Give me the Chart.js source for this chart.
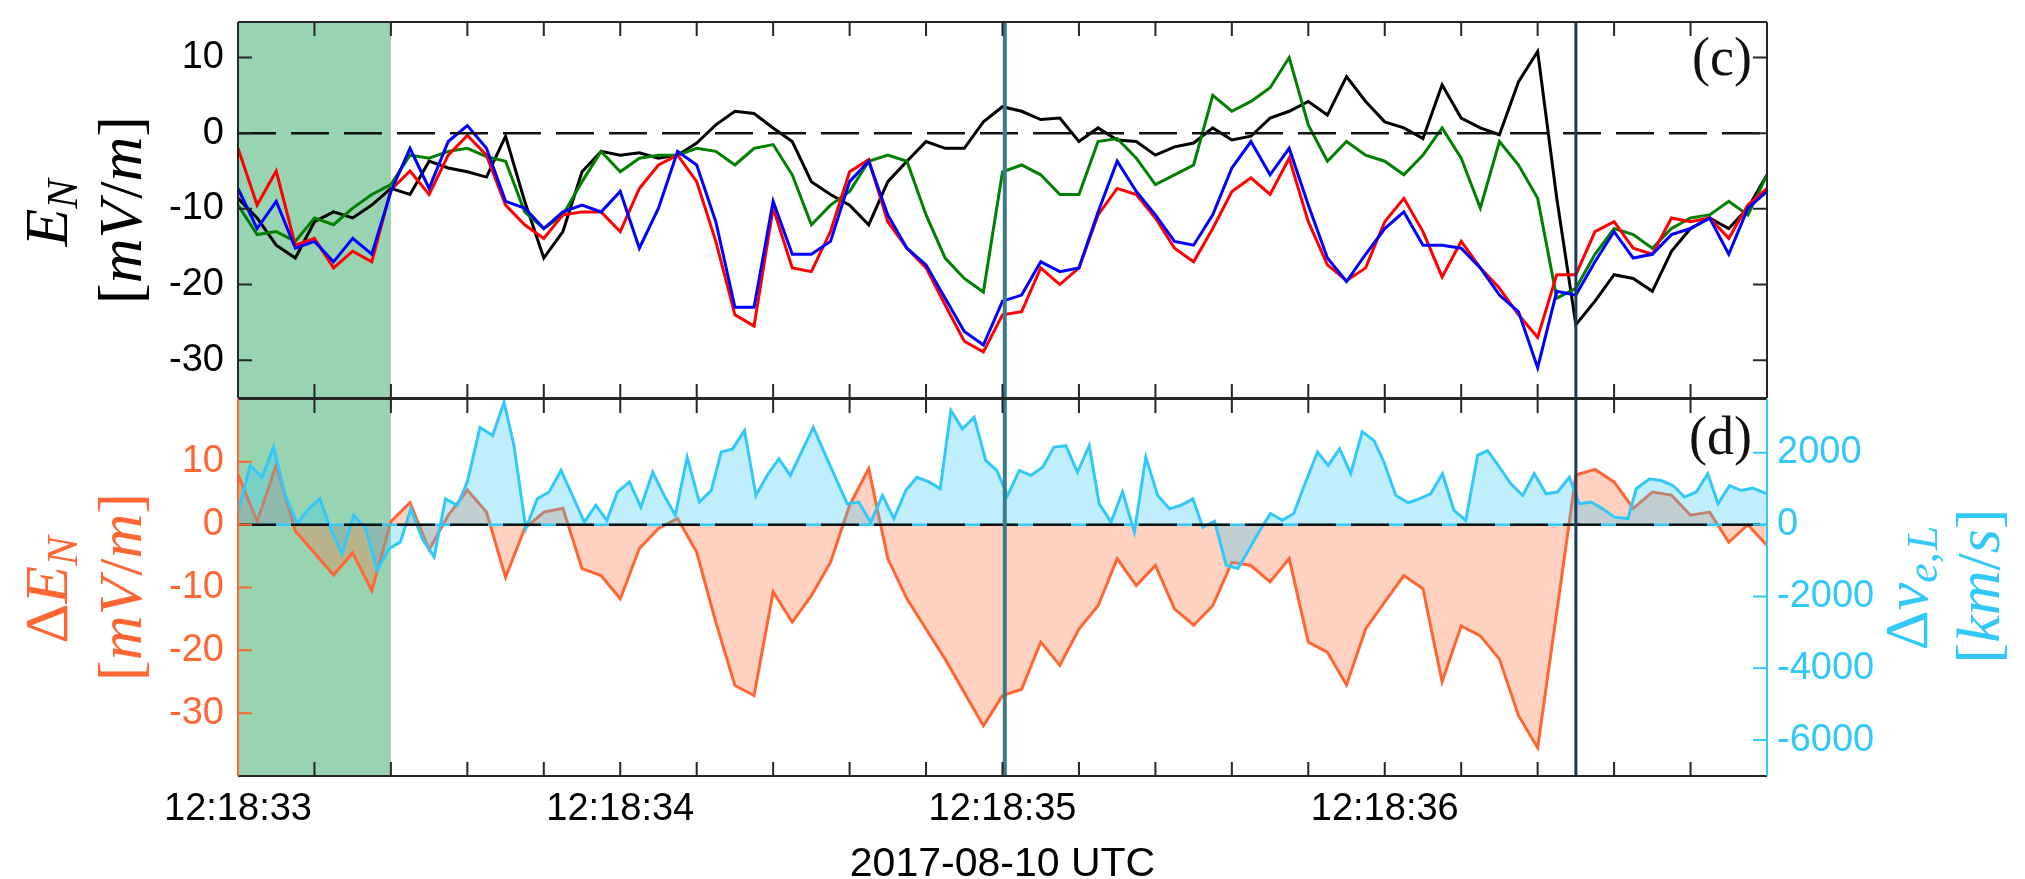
<!DOCTYPE html>
<html>
<head>
<meta charset="utf-8">
<script src="https://cdn.jsdelivr.net/npm/chart.js@4.4.1/dist/chart.umd.min.js"></script>
<style>
  html, body { margin: 0; padding: 0; background: #fff; }
  #wrap { position: relative; width: 2025px; height: 879px; }
  #wrap canvas { position: absolute; left: 0; top: 0; }
</style>
</head>
<body>
<div id="wrap">
  <canvas id="panelC" width="2025" height="879"></canvas>
  <canvas id="panelD" width="2025" height="879"></canvas>
</div>
<script>
// Time in seconds after 12:18:33 UTC (2017-08-10)
const tGrid = [0,0.05,0.1,0.15,0.2,0.25,0.3,0.35,0.4,0.45,
  0.5,0.55,0.6,0.65,0.7,0.75,0.8,0.85,0.9,0.95,
  1,1.05,1.1,1.15,1.2,1.25,1.3,1.35,1.4,1.45,
  1.5,1.55,1.6,1.65,1.7,1.75,1.8,1.85,1.9,1.95,
  2,2.05,2.1,2.15,2.2,2.25,2.3,2.35,2.4,2.45,
  2.5,2.55,2.6,2.65,2.7,2.75,2.8,2.85,2.9,2.95,
  3,3.05,3.1,3.15,3.2,3.25,3.3,3.35,3.4,3.45,
  3.5,3.55,3.6,3.65,3.7,3.75,3.8,3.85,3.9,3.95,
  4];

// E_N [mV/m], four estimates
const enRed = [-2,-9.5,-5,-14.8,-13.9,-17.8,-15.6,-17,-7.5,-5,
  -8.1,-2.9,-0.3,-2.9,-9.5,-12.1,-13.9,-10.8,-10.4,-10.4,
  -13,-7.3,-4.2,-2.9,-6.4,-14.3,-24,-25.5,-9.9,-17.8,
  -18.3,-13,-5.1,-3.5,-11.7,-15.2,-17.8,-22.7,-27.5,-28.9,
  -24,-23.6,-17.8,-20,-17.8,-10.8,-7.3,-8.1,-11.2,-15.2,
  -17,-12.6,-7.7,-5.9,-8.1,-3.3,-11.7,-17.4,-19.5,-17.8,
  -11.7,-8.6,-13,-19,-14.3,-17.8,-20.5,-24,-27,-18.7,
  -18.7,-13,-11.7,-15.2,-16,-11.2,-11.7,-11.2,-13.9,-9.5,
  -7.3];
const enBlue = [-7.3,-12.6,-9,-15.2,-14.3,-17,-13.9,-16,-7.7,-2,
  -7.3,-1.1,1,-2,-9,-9.9,-12.6,-10.4,-9.5,-10.4,
  -7.7,-15.2,-9.9,-2.4,-4.2,-11.7,-23,-23,-9,-16,
  -16,-14.3,-6.4,-3.7,-10.8,-15.2,-17.4,-21.8,-26.2,-28,
  -22.2,-21.4,-17,-18.3,-17.8,-10.4,-3.7,-7.7,-10.8,-14.3,
  -14.8,-10.8,-4.6,-1.1,-5.5,-2,-9.5,-16.5,-19.6,-16,
  -12.6,-10.4,-14.8,-14.8,-15.2,-17.8,-21.4,-23.6,-31,-20.9,
  -21.4,-17,-13,-16.5,-16,-13.4,-12.6,-11.2,-16,-9.9,
  -7.7];
const enBlack = [-8.6,-11.2,-14.8,-16.5,-11.7,-10.4,-11.2,-9.5,-7.3,-8.1,
  -3.7,-4.6,-5.1,-5.8,-0.4,-9,-16.5,-13,-5.1,-2.4,
  -2.9,-2.6,-3.3,-2.9,-1.3,1.1,2.9,2.6,0.7,-1.1,
  -6.4,-8.1,-9.5,-12.1,-6.4,-3.7,-1.1,-2,-2,1.5,
  3.5,2.9,1.8,2,-1.1,0.7,-0.9,-1.1,-2.9,-1.8,
  -1.3,0.7,-0.9,-0.4,2,2.9,4.2,2.4,7.5,4.2,
  1.5,0.7,-0.7,6.4,2,0.7,-0.2,6.8,10.8,-8.6,
  -25.3,-22.2,-18.7,-19.2,-20.9,-15.6,-12.6,-11.2,-12.6,-9.9,
  -5.5];
const enGreen = [-9.5,-13.4,-13,-14.3,-11.2,-12.1,-9.9,-8.1,-6.8,-2.9,
  -3.3,-2.4,-2,-3.1,-3.7,-10.4,-12.6,-10.8,-6.4,-2.4,
  -5.1,-3.3,-2.9,-2.9,-2,-2.4,-4.2,-2,-1.5,-5.5,
  -12.1,-9.5,-7.7,-3.7,-2.9,-3.7,-10.8,-16.5,-19.2,-21,
  -5.1,-4.2,-5.5,-8.1,-8.1,-1.1,-0.7,-3.3,-6.8,-5.5,
  -4.2,5,2.9,4.2,6,10,1.1,-3.7,-1.1,-2.9,
  -3.7,-5.5,-2.9,0.7,-3.3,-9.9,-1.1,-4.2,-8.6,-21.8,
  -20.5,-16,-12.6,-13.4,-15.2,-12.6,-11.2,-10.8,-9,-10.8,
  -5.5];

// Delta E_N [mV/m]
const dEn = [8,0.5,9.5,-1,-4.5,-8,-4.5,-10.5,0.5,3.5,
  -4,1.5,5.5,2,-8.4,-0.6,2,2.6,-7,-8.1,
  -11.8,-3.8,-0.6,1,-4.4,-15.5,-25.6,-27.2,-10.7,-15.5,
  -11.3,-6,3.1,8.9,-5.4,-11.8,-16.6,-21.4,-26.7,-32,
  -27.2,-26.2,-18.7,-22.4,-16.6,-12.9,-5.4,-9.7,-6.5,-13.4,
  -16,-12.9,-6,-6.5,-9.1,-5.4,-18.7,-20.3,-25.5,-16.6,
  -12.3,-8.1,-10.2,-25,-16.1,-17.7,-21.4,-30.4,-35.5,-13.9,
  7.9,8.8,6.8,2.6,5.2,4.7,1.5,2,-2.8,0,
  -3.3];

// Delta v_{e,L} [km/s], 30 ms electron cadence
const dvTimes = [0,0.032,0.063,0.093,0.124,0.155,0.185,0.214,0.242,0.272,
  0.303,0.334,0.364,0.395,0.425,0.452,0.482,0.513,0.543,0.574,
  0.6,0.633,0.666,0.696,0.722,0.753,0.783,0.814,0.845,0.875,
  0.906,0.936,0.965,0.993,1.024,1.054,1.085,1.115,1.144,1.175,
  1.207,1.238,1.264,1.294,1.325,1.355,1.384,1.415,1.445,1.476,
  1.505,1.537,1.568,1.594,1.624,1.655,1.686,1.716,1.747,1.776,
  1.808,1.837,1.865,1.895,1.926,1.956,1.985,2.013,2.044,2.074,
  2.105,2.135,2.166,2.196,2.227,2.253,2.284,2.314,2.345,2.375,
  2.406,2.437,2.467,2.498,2.524,2.555,2.585,2.616,2.646,2.671,
  2.701,2.732,2.762,2.793,2.824,2.852,2.882,2.911,2.941,2.972,
  2.998,3.029,3.062,3.09,3.12,3.151,3.181,3.212,3.243,3.269,
  3.3,3.33,3.361,3.391,3.422,3.452,3.483,3.509,3.54,3.57,
  3.601,3.636,3.658,3.693,3.723,3.754,3.784,3.815,3.845,3.872,
  3.902,3.933,3.963,4];
const dvVals = [350,1650,1320,2160,810,30,440,720,-110,-810,
  260,-110,-1270,-670,-480,440,-390,-900,720,540,
  1190,2710,2480,3410,2200,-110,720,910,1510,810,
  70,540,120,910,1190,490,1460,810,260,1880,
  630,950,2020,2110,2620,810,1370,1830,1370,2060,
  2710,1930,1190,580,630,70,810,170,950,1320,
  1190,1000,3180,2670,2990,1790,1510,810,1510,1370,
  1600,2160,2200,1460,2200,580,70,910,-200,1880,
  810,440,540,720,-70,90,-1130,-1220,-670,-200,
  310,120,310,1190,2020,1650,2110,1420,2590,2340,
  1740,810,610,720,860,1420,400,120,1930,2060,
  1600,1140,810,1420,860,910,1320,580,630,440,
  210,170,1000,1280,1230,1090,770,910,1420,580,
  1090,950,1020,860];

// Axis ticks and labels
const yTicksEN = [-30,-20,-10,0,10];
const yTicksDE = [-30,-20,-10,0,10];
const yTicksDV = [-6000,-4000,-2000,0,2000];
const xLabelTicks = [0,1,2,3];
const xLabels = ['12:18:33','12:18:34','12:18:35','12:18:36'];
const xMinorTicks = [];
for (let k = 1; k < 20; k++) xMinorTicks.push(k * 0.2);

// Shaded interval and marked instants (s after 12:18:33)
const shadeSpan = [0, 0.4];
const markTimes = [2.006, 3.5];

// ---- styling ----
const SANS = '"Liberation Sans", Arial, Helvetica, sans-serif';
const SERIF = '"Liberation Serif", "Times New Roman", serif';
const AXC = '#262626';
const ORANGE = '#ff6633';
const CYAN = '#33c8fa';
const SHADE = '#98d4b2';
const markStyles = [{ w: 4, c: '#3a7b8b' }, { w: 3, c: '#1d3a56' }];
const TICK_LEN = 14;
const PLOT_L = 238, PLOT_R = 1767;
const W = 2025, H = 879;

const it = s => `italic ${s}px ${SERIF}`;
const up = s => `${s}px ${SERIF}`;

function pts(xs, ys) { return xs.map((x, i) => ({ x, y: ys[i] })); }

function drawMath(ctx, baseX, centerY, parts, color) {
  ctx.save();
  ctx.translate(baseX, centerY);
  ctx.rotate(-Math.PI / 2);
  ctx.fillStyle = color;
  ctx.textBaseline = 'alphabetic';
  ctx.textAlign = 'left';
  let total = 0;
  parts.forEach(p => { ctx.font = p.f; p.w = ctx.measureText(p.t).width + (p.g || 0); total += p.w; });
  let x = -total / 2;
  parts.forEach(p => { ctx.font = p.f; ctx.fillText(p.t, x, p.dy || 0); x += p.w; });
  ctx.restore();
}

function shade(chart) {
  const { ctx, chartArea: a, scales: { x } } = chart;
  const x0 = x.getPixelForValue(shadeSpan[0]);
  const x1 = x.getPixelForValue(shadeSpan[1]);
  ctx.save();
  ctx.fillStyle = SHADE;
  ctx.fillRect(x0, a.top, x1 - x0, a.bottom - a.top);
  ctx.restore();
}

function zeroLine(chart, yScale, cyanUnder) {
  const { ctx, chartArea: a } = chart;
  const py = yScale.getPixelForValue(0);
  ctx.save();
  if (cyanUnder) {
    ctx.strokeStyle = CYAN;
    ctx.lineWidth = 2.5;
    ctx.beginPath(); ctx.moveTo(a.left, py); ctx.lineTo(a.right, py); ctx.stroke();
  }
  ctx.strokeStyle = '#111';
  ctx.lineWidth = 2.5;
  ctx.setLineDash([38, 15]);
  ctx.beginPath(); ctx.moveTo(a.left, py); ctx.lineTo(a.right, py); ctx.stroke();
  ctx.restore();
}

function drawMarks(chart) {
  const { ctx, chartArea: a, scales: { x } } = chart;
  ctx.save();
  markTimes.forEach((t, i) => {
    const px = x.getPixelForValue(t);
    ctx.strokeStyle = markStyles[i].c;
    ctx.lineWidth = markStyles[i].w;
    ctx.beginPath(); ctx.moveTo(px, a.top); ctx.lineTo(px, a.bottom); ctx.stroke();
  });
  ctx.restore();
}

function drawBox(chart, o) {
  const { ctx, chartArea: a, scales: { x } } = chart;
  ctx.save();
  ctx.lineWidth = 2;
  ctx.strokeStyle = AXC;
  ctx.beginPath();
  xMinorTicks.forEach(v => {
    const px = x.getPixelForValue(v);
    ctx.moveTo(px, a.top); ctx.lineTo(px, a.top + TICK_LEN);
    ctx.moveTo(px, a.bottom); ctx.lineTo(px, a.bottom - TICK_LEN);
  });
  ctx.moveTo(a.left, a.top); ctx.lineTo(a.right, a.top);
  ctx.moveTo(a.left, a.bottom); ctx.lineTo(a.right, a.bottom);
  ctx.stroke();

  ctx.strokeStyle = o.leftColor;
  ctx.beginPath();
  ctx.moveTo(a.left, a.top); ctx.lineTo(a.left, a.bottom);
  o.leftTicks.forEach(v => {
    const py = o.leftScale.getPixelForValue(v);
    ctx.moveTo(a.left, py); ctx.lineTo(a.left + TICK_LEN, py);
  });
  ctx.stroke();

  ctx.strokeStyle = o.rightColor;
  ctx.beginPath();
  ctx.moveTo(a.right, a.top); ctx.lineTo(a.right, a.bottom);
  o.rightTicks.forEach(v => {
    const py = o.rightScale.getPixelForValue(v);
    ctx.moveTo(a.right, py); ctx.lineTo(a.right - TICK_LEN, py);
  });
  ctx.stroke();
  ctx.restore();
}

function panelLetter(chart, text, baseline) {
  const { ctx, chartArea: a } = chart;
  ctx.save();
  ctx.fillStyle = '#111';
  ctx.font = up(54);
  ctx.textAlign = 'right';
  ctx.textBaseline = 'alphabetic';
  ctx.fillText(text, a.right - 15, baseline);
  ctx.restore();
}

const yScaleBase = (min, max, tickVals, color, width, padding, position) => ({
  type: 'linear', position, min, max,
  grid: { display: false, drawTicks: false },
  border: { display: false },
  afterBuildTicks: s => { s.ticks = tickVals.map(v => ({ value: v })); },
  afterFit: s => { s.width = width; s.paddingTop = 0; s.paddingBottom = 0; },
  ticks: { color, padding, font: { family: SANS, size: 38 }, callback: v => String(v) }
});

// ---- panel (c): E_N ----
const decorC = {
  id: 'decorC',
  beforeDatasetsDraw(chart) { shade(chart); },
  afterDatasetsDraw(chart) {
    const y = chart.scales.y;
    zeroLine(chart, y, false);
    drawMarks(chart);
    drawBox(chart, { leftColor: AXC, rightColor: AXC, leftScale: y, rightScale: y,
                     leftTicks: yTicksEN, rightTicks: yTicksEN });
    panelLetter(chart, '(c)', 75);
    const ctx = chart.ctx;
    drawMath(ctx, 67, 213, [
      { t: 'E', f: it(62) },
      { t: 'N', f: it(44), dy: 10 }
    ], '#000');
    drawMath(ctx, 141, 210, [
      { t: '[', f: up(62) }, { t: 'm', f: it(62) }, { t: 'V', f: it(62), g: 2 },
      { t: '/', f: up(62) }, { t: 'm', f: it(62) }, { t: ']', f: up(62) }
    ], '#000');
  }
};

new Chart(document.getElementById('panelC'), {
  type: 'line',
  data: {
    datasets: [
      { data: pts(tGrid, enBlue), borderColor: '#0000ff' },
      { data: pts(tGrid, enRed), borderColor: '#ff0000' },
      { data: pts(tGrid, enGreen), borderColor: '#008000' },
      { data: pts(tGrid, enBlack), borderColor: '#000000' }
    ].map(d => Object.assign(d, { borderWidth: 3, pointRadius: 0, tension: 0, fill: false }))
  },
  options: {
    responsive: false, animation: false, devicePixelRatio: 1, events: [],
    layout: { padding: { left: 0, top: 22, right: W - PLOT_R, bottom: H - 398 } },
    plugins: { legend: { display: false }, tooltip: { enabled: false } },
    scales: {
      x: { type: 'linear', min: 0, max: 4, display: false },
      y: yScaleBase(-35, 14.7, yTicksEN, '#000', PLOT_L, 14, 'left')
    }
  },
  plugins: [decorC]
});

// ---- panel (d): Delta E_N and Delta v_{e,L} ----
const decorD = {
  id: 'decorD',
  beforeDatasetsDraw(chart) { shade(chart); },
  afterDatasetsDraw(chart) {
    const { y, y1 } = chart.scales;
    zeroLine(chart, y, true);
    drawMarks(chart);
    drawBox(chart, { leftColor: ORANGE, rightColor: CYAN, leftScale: y, rightScale: y1,
                     leftTicks: yTicksDE, rightTicks: yTicksDV });
    panelLetter(chart, '(d)', 454);
    const ctx = chart.ctx;
    drawMath(ctx, 67, 590, [
      { t: '\u0394', f: up(62) },
      { t: 'E', f: it(62) },
      { t: 'N', f: it(44), dy: 10 }
    ], ORANGE);
    drawMath(ctx, 141, 587, [
      { t: '[', f: up(62) }, { t: 'm', f: it(62) }, { t: 'V', f: it(62), g: 2 },
      { t: '/', f: up(62) }, { t: 'm', f: it(62) }, { t: ']', f: up(62) }
    ], ORANGE);
    drawMath(ctx, 1927, 588, [
      { t: '\u0394', f: up(62) },
      { t: 'v', f: it(62) },
      { t: 'e', f: it(44), dy: 10 },
      { t: ',', f: up(44), dy: 10, g: 2 },
      { t: 'L', f: it(44), dy: 10 }
    ], CYAN);
    drawMath(ctx, 1999, 586, [
      { t: '[', f: up(62) }, { t: 'k', f: it(62) }, { t: 'm', f: it(62) },
      { t: '/', f: up(62) }, { t: 's', f: it(62) }, { t: ']', f: up(62) }
    ], CYAN);
    // time axis caption
    ctx.save();
    ctx.fillStyle = '#000';
    ctx.font = `41px ${SANS}`;
    ctx.textAlign = 'center';
    ctx.textBaseline = 'alphabetic';
    ctx.fillText('2017-08-10 UTC', (chart.chartArea.left + chart.chartArea.right) / 2, 876);
    ctx.restore();
  }
};

new Chart(document.getElementById('panelD'), {
  type: 'line',
  data: {
    datasets: [
      { data: pts(dvTimes, dvVals), yAxisID: 'y1', borderColor: CYAN,
        backgroundColor: 'rgba(51,200,250,0.3)', fill: 'origin', borderWidth: 3 },
      { data: pts(tGrid, dEn), yAxisID: 'y', borderColor: ORANGE,
        backgroundColor: 'rgba(255,102,51,0.3)', fill: 'origin', borderWidth: 3 }
    ].map(d => Object.assign(d, { pointRadius: 0, tension: 0 }))
  },
  options: {
    responsive: false, animation: false, devicePixelRatio: 1, events: [],
    layout: { padding: { left: 0, top: 399, right: 0, bottom: 0 } },
    plugins: { legend: { display: false }, tooltip: { enabled: false } },
    scales: {
      x: {
        type: 'linear', position: 'bottom', min: 0, max: 4,
        grid: { display: false, drawTicks: false },
        border: { display: false },
        afterBuildTicks: s => { s.ticks = xLabelTicks.map(v => ({ value: v })); },
        afterFit: s => { s.height = H - 776; s.paddingLeft = 0; s.paddingRight = 0; },
        ticks: {
          color: '#000', padding: 11, maxRotation: 0, minRotation: 0, autoSkip: false,
          font: { family: SANS, size: 38 },
          callback: (v, i) => xLabels[i]
        }
      },
      y: yScaleBase(-40, 20, yTicksDE, ORANGE, PLOT_L, 14, 'left'),
      y1: yScaleBase(-7000, 3500, yTicksDV, CYAN, W - PLOT_R, 10, 'right')
    }
  },
  plugins: [decorD]
});
</script>
</body>
</html>
